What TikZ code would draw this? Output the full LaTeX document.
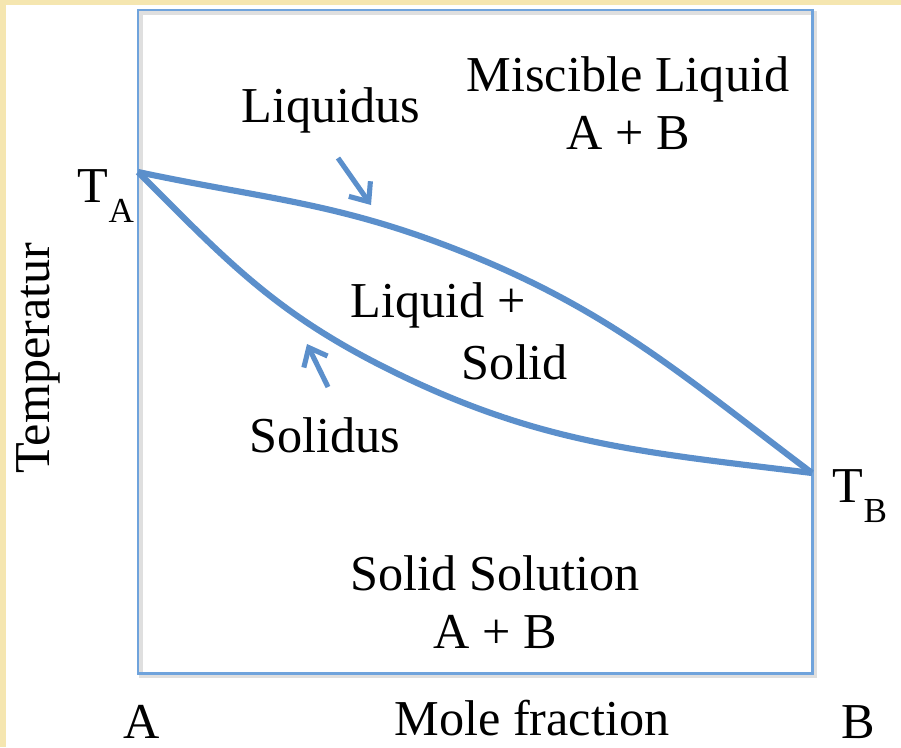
\documentclass[tikz,border=0pt]{standalone}
\usepackage{fontspec}
\setmainfont{Liberation Serif}
\usetikzlibrary{arrows.meta}
\definecolor{curveblue}{HTML}{5B8FCB}
\definecolor{frameblue}{HTML}{6FA3DC}
\definecolor{parchment}{HTML}{F5E6B0}

\begin{document}
\begin{tikzpicture}[x=0.02cm, y=-0.02cm,
  lbl/.style={font=\fontsize{28.6}{33}\selectfont, align=center, inner sep=0pt},
  phase/.style={draw=curveblue, line width=3.5pt},
  ptr/.style={draw=curveblue, line width=2.9pt, -{Straight Barb[length=9pt, width=15pt]}},
]
% background
\fill[parchment] (0,0) rectangle (901,747);
\fill[white] (6,5) rectangle (901,747);
\useasboundingbox (0,0) rectangle (901,747);

% plot frame
\draw[gray!25, line width=2pt] (141,13) rectangle (815,676);
\draw[frameblue, line width=1.7pt] (138,10) rectangle (812,673);

\coordinate (TA) at (138,172);
\coordinate (TB) at (812,473);
\coordinate (liqmid) at (450,247);
\coordinate (solmid) at (380,365);

% liquidus and solidus
\draw[phase] (TA) to[out=-12, in=159] (liqmid) to[out=-21, in=143] (TB);
\draw[phase] (TA) to[out=-45, in=153] (solmid) to[out=-27, in=173] (TB);

% labels
\node[lbl] (liquidus) at (331,110) {Liquidus};
\node[lbl] (misc) at (628,103) {Miscible Liquid\\A + B};
\node[lbl] (liqplus) at (438,305) {Liquid +};
\node[lbl] (solid) at (515,362) {Solid};
\node[lbl] (solidus) at (325,435) {Solidus};
\node[lbl] (solsol) at (495,602) {Solid Solution\\A + B};
\node[lbl] (ta) at (106,196) {T\raisebox{-0.9ex}{\fontsize{20}{20}\selectfont A}};
\node[lbl] (tb) at (860,496) {T\raisebox{-0.9ex}{\fontsize{20}{20}\selectfont B}};
\node[lbl, rotate=90] (temp) at (38,358) {Temperatur};
\node[lbl] (xa) at (142,722) {A};
\node[lbl] (mole) at (532,718) {Mole fraction};
\node[lbl] (xb) at (858,722) {B};

% pointers
\coordinate (liqtip) at (371,205);
\coordinate (soltip) at (307,344);
\draw[ptr] (338,158) -- (liqtip);
\draw[ptr] (328,387) -- (soltip);
\end{tikzpicture}
\end{document}
